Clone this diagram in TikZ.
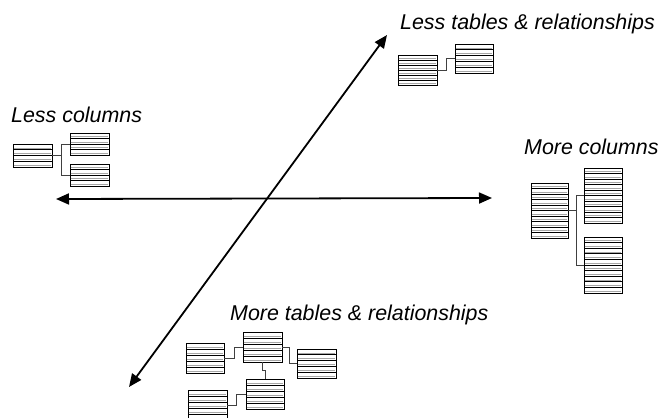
\documentclass[tikz,border=0pt]{standalone}
\usepackage{fontspec}
\setmainfont{Liberation Sans}
\usetikzlibrary{arrows.meta}
\tikzset{
  tbl/.style={draw=black, line width=0.9pt, fill=white, inner sep=0pt, outer sep=0pt, anchor=north west},
  link/.style={draw=black!75, line width=0.7pt},
  axis/.style={draw=black, line width=1.8pt, {Triangle[length=13pt,width=11pt]}-{Triangle[length=13pt,width=11pt]}},
  lbl/.style={font=\fontsize{21.4}{25}\selectfont\itshape, inner sep=0pt, anchor=base west}
}
% name, left x, top y, width, height, rows
\newcommand\dbtab[6]{%
  \node[tbl, minimum width=#4pt, minimum height=#5pt] (#1) at (#2,#3) {};
  \foreach \k in {1,...,#6}{%
    \pgfmathsetmacro\yy{#3+#5*\k/#6}
    \draw[black!35, line width=0.9pt] (#2+0.6,\yy-1.8) -- (#2+#4-0.6,\yy-1.8);
    \ifnum\k<#6\relax
      \draw[black, line width=0.8pt] (#2,\yy) -- (#2+#4,\yy);
    \fi
  }%
}
\begin{document}
\begin{tikzpicture}[x=1pt,y=-1pt]
\useasboundingbox (0,0) rectangle (662,418);
\clip (0,0) rectangle (662,418);

% axes
\coordinate (hl) at (56,199);
\coordinate (hr) at (492,198);
\coordinate (dl) at (129,387);
\coordinate (du) at (387,35);
\draw[axis] (hl) -- (hr);
\draw[axis] (dl) -- (du);

% labels
\node[lbl] (tLT) at (400,29.5) {Less tables \& relationships};
\node[lbl] (tLC) at (11,122.5) {Less columns};
\node[lbl] (tMC) at (524,154.5) {More columns};
\node[lbl] (tMT) at (230,320.5) {More tables \& relationships};

% Less columns group
\dbtab{lc1}{13}{144}{39}{23}{4}
\dbtab{lc2}{70}{133}{39}{22}{4}
\dbtab{lc3}{70}{164}{39}{22}{4}
\draw[link] (lc1.east) -- ++(9,0) |- (lc2.west);
\draw[link] (lc1.east) -- ++(9,0) |- (lc3.west);

% Less tables group
\dbtab{lt1}{398}{55}{39}{30}{6}
\dbtab{lt2}{455}{44}{38}{29}{5}
\draw[link] (lt1.east) -- ++(9,0) |- (lt2.west);

% More columns group
\dbtab{mc1}{531}{183}{37}{55}{10}
\dbtab{mc2}{584}{168}{38}{55}{10}
\dbtab{mc3}{584}{237}{38}{56}{10}
\draw[link] (mc1.east) -- ++(8,0) |- (mc2.west);
\draw[link] (mc1.east) -- ++(8,0) |- (mc3.west);

% More tables group
\dbtab{mtA}{186}{343}{38}{30}{5}
\dbtab{mtB}{243}{332}{39}{30}{5}
\dbtab{mtC}{297}{349}{39}{29}{5}
\dbtab{mtD}{246}{379}{38}{30}{5}
\dbtab{mtE}{188}{390}{39}{30}{5}
\draw[link] (mtA.east) -- ++(10,0) |- (mtB.west);
\draw[link] (mtB.east) -- ++(7,0) |- (mtC.west);
\draw[link] (mtB.south) -- ++(0,8) -| (mtD.north);
\draw[link] (mtE.east) -- ++(9,0) |- (mtD.west);
\end{tikzpicture}
\end{document}
